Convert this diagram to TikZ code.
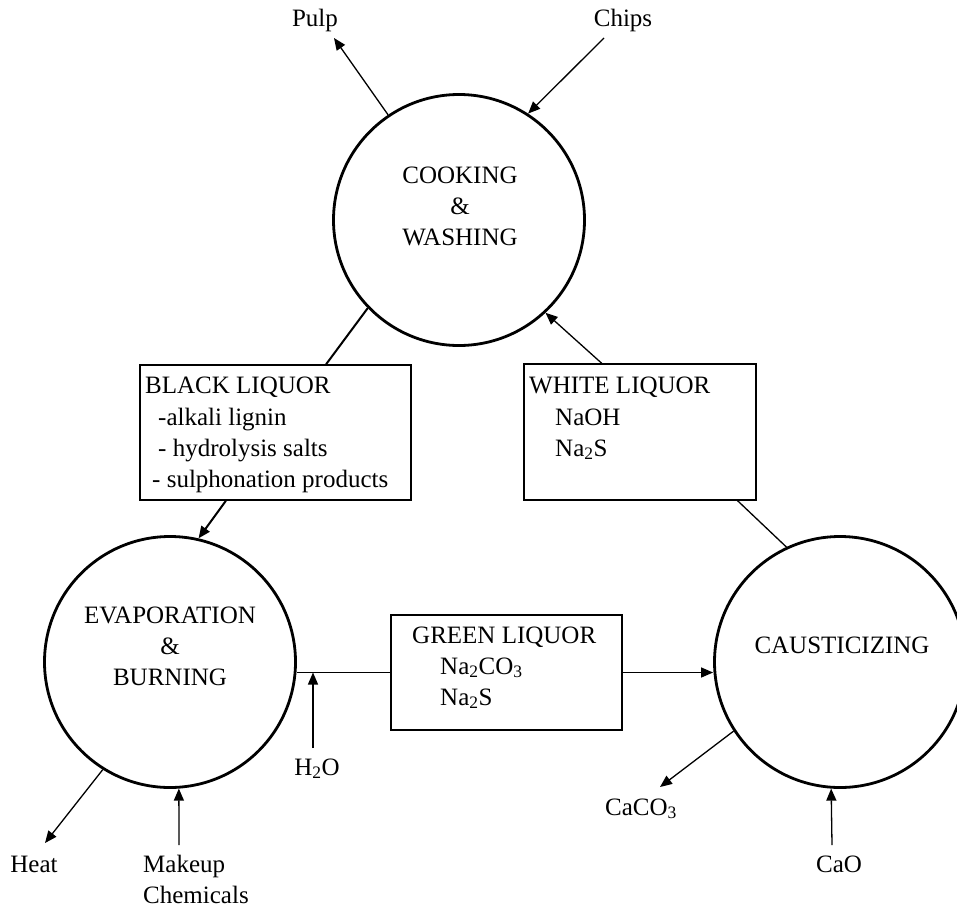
\documentclass[tikz,border=0pt]{standalone}
\usepackage{fontspec}
\setmainfont{Liberation Serif}
\usetikzlibrary{arrows.meta,calc}
\begin{document}
\begin{tikzpicture}[x=1pt,y=-1pt,
  every node/.style={font=\fontsize{25}{31}\selectfont, inner sep=0pt},
  proc/.style={circle, draw, line width=2.8pt, minimum size=251pt},
  liq/.style={draw, line width=1.4pt},
  con/.style={line width=1.3pt},
  thickcon/.style={line width=2pt},
  arr/.style={-{Triangle[length=12pt,width=10pt]}},
  ]
\useasboundingbox (0,0) rectangle (957,907);
\clip (0,0) rectangle (957,907);

% process circles
\node[proc] (cook) at (459,220) {};
\node[proc] (evap) at (170,662) {};
\node[proc] (caus) at (840,662) {};
\node[align=center] (cooktxt) at (460,206) {COOKING\\\&\\WASHING};
\node[align=center] (evaptxt) at (170,646) {EVAPORATION\\\&\\BURNING};
\node[anchor=base] (caustxt) at (842,653) {CAUSTICIZING};

% liquor boxes
\node[liq, minimum width=271pt, minimum height=135pt] (black) at (275.5,432.5) {};
\node[liq, minimum width=232pt, minimum height=136pt] (white) at (640,432) {};
\node[liq, minimum width=231pt, minimum height=115pt] (green) at (506.5,672.5) {};

\node[anchor=base west] (bl1) at (145,393) {BLACK LIQUOR};
\node[anchor=base west] (bl2) at (158,425) {-alkali lignin};
\node[anchor=base west] (bl3) at (158,456) {- hydrolysis salts};
\node[anchor=base west] (bl4) at (152,487) {- sulphonation products};

\node[anchor=base west] (wl1) at (529,393) {WHITE LIQUOR};
\node[anchor=base west] (wl2) at (555,425) {NaOH};
\node[anchor=base west] (wl3) at (555,456) {Na\textsubscript{2}S};

\node[anchor=base west] (gl1) at (412,643) {GREEN LIQUOR};
\node[anchor=base west] (gl2) at (440,674) {Na\textsubscript{2}CO\textsubscript{3}};
\node[anchor=base west] (gl3) at (440,705) {Na\textsubscript{2}S};

% outer labels
\node[anchor=base] (pulp) at (315,27) {Pulp};
\node[anchor=base] (chips) at (623,27) {Chips};
\node[anchor=base] (h2o) at (317,775) {H\textsubscript{2}O};
\node[anchor=base] (caco3) at (641,815) {CaCO\textsubscript{3}};
\node[anchor=base] (heat) at (34,872) {Heat};
\node[anchor=base west] (makeup) at (143,872) {Makeup};
\node[anchor=base west] (chem) at (143,903) {Chemicals};
\node[anchor=base] (cao) at (839,872) {CaO};

% free ends
\coordinate (pulpend) at (334,38);
\coordinate (chipstail) at (604,38);
\coordinate (h2otail) at (313,748);
\coordinate (caco3end) at (660,787);
\coordinate (caotail) at (832,845);
\coordinate (heatend) at (45,843);
\coordinate (mktail) at (179,845);

% connectors
\draw[con,arr] (cook.124) -- (pulpend);
\draw[con,arr] (chipstail) -- (cook.57);
\draw[thickcon] (cook.224) -- (black);
\draw[thickcon,arr] (black) -- (evap.77);
\draw[con,arr] ($(white.north west)!0.336!(white.north east)$) -- (cook.313);
\draw[con] ($(white.south west)!0.918!(white.south east)$) -- (caus.115);
\draw[con] (evap.east |- green.west) -- (green.west);
\draw[con,arr] (green.east) -- (green.east -| caus.west);
\draw[con,arr] (h2otail) -- (h2otail |- green.west);
\draw[con,arr] (caus.213) -- (caco3end);
\draw[con,arr] (caotail) -- (caus.266);
\draw[con,arr] (evap.238) -- (heatend);
\draw[con,arr] (mktail) -- (evap.274);
\end{tikzpicture}
\end{document}
